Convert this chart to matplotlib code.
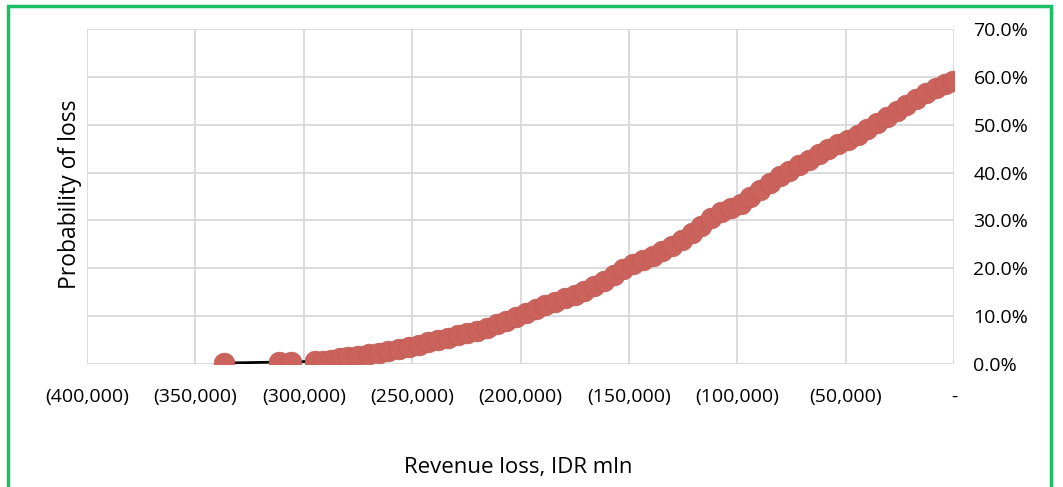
import matplotlib.pyplot as plt
from matplotlib.patches import Rectangle
from matplotlib.ticker import FuncFormatter

# revenue loss (IDR mln) and cumulative probability of loss (%)
loss = [-336800, -311400, -305900, -294800, -291000, -287500, -283300, -279500,
        -275000, -270000, -265500, -261000, -256000, -251500, -247000, -242500,
        -238000, -233500, -229000, -224500, -220000, -215500, -211000, -206500,
        -202000, -197500, -193000, -188500, -184000, -179500, -175000, -170500,
        -166000, -161500, -157000, -152500, -148000, -143500, -139000, -134500,
        -130000, -125500, -121000, -116500, -112000, -107500, -103000, -98500,
        -94000, -89500, -85000, -80500, -76000, -71500, -67000, -62500,
        -58000, -53500, -49000, -44500, -40000, -35500, -31000, -26500,
        -22000, -17500, -13000, -8500, -4200, -500]
prob = [0.2, 0.4, 0.4, 0.6, 0.7, 0.9, 1.2, 1.4,
        1.7, 2.0, 2.4, 2.8, 3.2, 3.6, 4.0, 4.5,
        5.0, 5.5, 6.0, 6.5, 7.0, 7.6, 8.3, 9.0,
        9.8, 10.7, 11.5, 12.3, 13.0, 13.8, 14.5, 15.3,
        16.3, 17.4, 18.6, 19.8, 20.8, 21.7, 22.6, 23.6,
        24.7, 26.0, 27.4, 28.9, 30.5, 31.7, 32.5, 33.4,
        34.8, 36.4, 37.9, 39.2, 40.4, 41.5, 42.6, 43.8,
        44.9, 45.9, 46.9, 47.9, 49.1, 50.3, 51.6, 52.9,
        54.2, 55.4, 56.6, 57.7, 58.6, 59.1]

x_ticks = [-400000, -350000, -300000, -250000, -200000, -150000, -100000, -50000, 0]
y_ticks = [0, 10, 20, 30, 40, 50, 60, 70]

plt.rcParams['font.family'] = ['Open Sans', 'DejaVu Sans']

fig = plt.figure(figsize=(10.63, 4.87), dpi=100)
ax = fig.add_axes([87/1063, 1 - 364/487, (954 - 87)/1063, (364 - 29)/487])

ax.plot(loss, prob, color='black', lw=2, zorder=2)
ax.plot(loss, prob, ls='none', marker='o', ms=15, color='#cb625b',
        mec='#bb5953', mew=0.4, zorder=3)

ax.set_xlim(-400000, 0)
ax.set_ylim(0, 70)
ax.set_xticks(x_ticks)
ax.set_yticks(y_ticks)

def fmt_x(v, pos):
    if v == 0:
        return '-'
    return '({:,.0f})'.format(abs(v))

ax.xaxis.set_major_formatter(FuncFormatter(fmt_x))
ax.yaxis.set_major_formatter(FuncFormatter(lambda v, pos: '{:.1f}%'.format(v)))
ax.yaxis.tick_right()
ax.tick_params(length=0, labelsize=14, colors='#000000')
ax.tick_params(axis='x', pad=17)
ax.tick_params(axis='y', pad=14)

ax.grid(True, color='#d9d9d9', lw=1.3)
ax.set_axisbelow(True)
for s in ax.spines.values():
    s.set_visible(False)

fig.text(70/1063, 1 - 194/487, 'Probability of loss', rotation=90,
         ha='center', va='center', fontsize=16.5)
fig.text(518/1063, 1 - 467/487, 'Revenue loss, IDR mln',
         ha='center', va='center', fontsize=16)

fig.patches.append(Rectangle((8/1063, -0.05), (1051 - 8)/1063, 1 - 6/487 + 0.05,
                             transform=fig.transFigure, fill=False,
                             ec='#1cbf63', lw=2.5))

fig.savefig('out.png', dpi=100)
